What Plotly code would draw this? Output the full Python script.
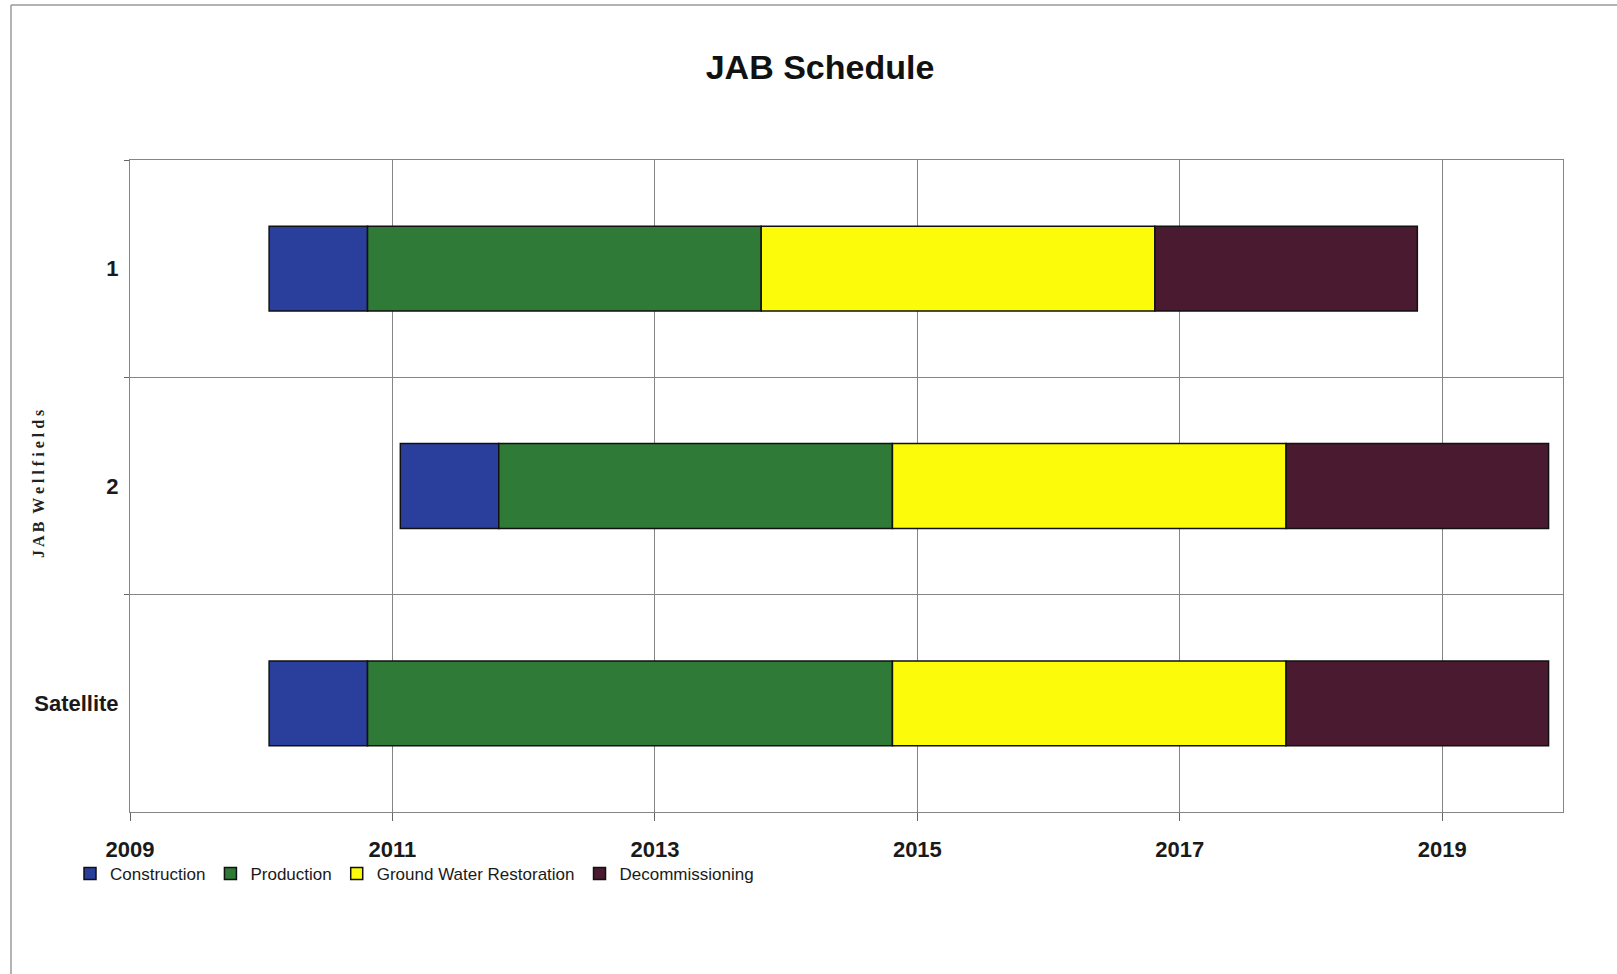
import numpy as np
import plotly.graph_objects as go

# ---- data (decimal years) ----
wellfields = ["1", "2", "Satellite"]
start_year = [2010.06, 2011.06, 2010.06]
construction = [0.75, 0.75, 0.75]
production = [3.0, 3.0, 4.0]
gw_restoration = [3.0, 3.0, 3.0]
decommissioning = [2.0, 2.0, 2.0]

phase_names = ["Construction", "Production", "Ground Water Restoration", "Decommissioning"]
phase_values = [construction, production, gw_restoration, decommissioning]
phase_colors = ["#2a3f9c", "#2f7a37", "#fbfb0a", "#4a1a30"]

x_ticks = [2009, 2011, 2013, 2015, 2017, 2019]
x_range = [2009, 2019.92]

NARROW = "Liberation Sans Narrow, Arial Narrow, Liberation Sans, Arial, sans-serif"

fig = go.Figure()
base = np.array(start_year, dtype=float)
for name, vals, col in zip(phase_names, phase_values, phase_colors):
    vals = np.array(vals, dtype=float)
    fig.add_trace(go.Bar(
        y=wellfields, x=vals, base=base, orientation="h", name=name,
        marker=dict(color=col, line=dict(color="#111111", width=1.5)),
        width=0.39,
    ))
    base = base + vals

W, H = 1617, 974
L, R, T, B = 130, 54, 160, 162
pw, ph = W - L - R, H - T - B

def px_x(px):
    return (px - L) / pw

def px_y(py):
    return (H - B - py) / ph

fig.update_layout(
    width=W, height=H,
    margin=dict(l=L, r=R, t=T, b=B, pad=0),
    paper_bgcolor="white", plot_bgcolor="white",
    barmode="overlay",
    title=dict(text="JAB Schedule", x=px_x(820), xanchor="center",
               xref="paper", y=1 - 67 / H, yanchor="middle", yref="container",
               font=dict(family=NARROW, size=34, color="#111111", weight="bold")),
    xaxis=dict(range=x_range, tickvals=x_ticks, ticktext=[str(t) for t in x_ticks],
               showgrid=True, gridcolor="#858585", gridwidth=1,
               showline=True, linecolor="#858585", linewidth=1, mirror=True,
               ticks="outside", ticklen=8, tickcolor="#666666",
               ticklabelstandoff=10,
               tickfont=dict(family=NARROW, size=22, color="#1a1a1a", weight="bold"),
               zeroline=False),
    yaxis=dict(type="category", categoryorder="array", categoryarray=wellfields,
               autorange="reversed", tickson="boundaries",
               showgrid=True, gridcolor="#858585", gridwidth=1,
               showline=True, linecolor="#858585", linewidth=1, mirror=True,
               ticks="outside", ticklen=5, tickcolor="#666666",
               ticklabelstandoff=6,
               tickfont=dict(family=NARROW, size=22, color="#1a1a1a", weight="bold")),
    legend=dict(orientation="h", x=px_x(70), xanchor="left", y=px_y(874), yanchor="middle",
                font=dict(family=NARROW, size=17, color="#1a1a1a"),
                bgcolor="rgba(0,0,0,0)", traceorder="normal", itemclick=False),
    showlegend=True,
)

# y-axis title
fig.add_annotation(text="J A B  W e l l f i e l d s", textangle=-90,
                   x=px_x(38), y=px_y(484), xref="paper", yref="paper",
                   xanchor="center", yanchor="middle", showarrow=False,
                   font=dict(family="Liberation Serif, Times New Roman, serif", size=16,
                             color="#222222", weight="bold"))

# outer chart frame (top and left edges visible)
fig.add_shape(type="line", xref="paper", yref="paper",
              x0=px_x(11), x1=px_x(W + 5), y0=px_y(5), y1=px_y(5),
              line=dict(color="#9a9a9a", width=1.5))
fig.add_shape(type="line", xref="paper", yref="paper",
              x0=px_x(11), x1=px_x(11), y0=px_y(5), y1=px_y(H + 5),
              line=dict(color="#9a9a9a", width=1.5))

fig.write_html("out.html")
